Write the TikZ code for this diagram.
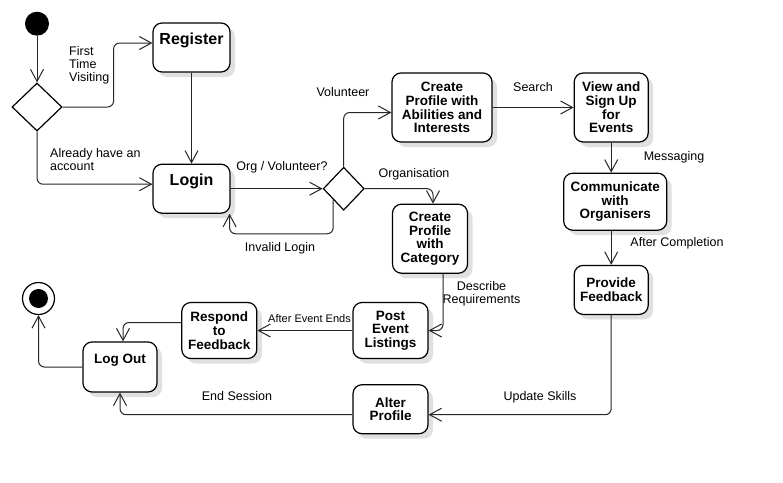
\documentclass[tikz,border=0pt]{standalone}
\usepackage{fontspec}
\setmainfont{Liberation Sans}
\usetikzlibrary{shapes.geometric, positioning, arrows.meta, shadows}

\begin{document}
\begin{tikzpicture}[x=1pt, y=1pt, font=\fontsize{12.5}{13}\selectfont]
        \tikzstyle{block} = [rectangle, rounded corners=9pt, draw, line width=1.2pt, fill=white, align=center, inner sep=3pt, font=\fontsize{13.5}{13.7}\selectfont\bfseries, drop shadow={shadow xshift=5pt, shadow yshift=-5pt, fill=black!12, opacity=1}]
        \tikzstyle{oneline} = [text height=18pt, text depth=25pt]
        \tikzstyle{big} = [font=\fontsize{16}{18}\selectfont\bfseries]
        \tikzstyle{decision} = [diamond, draw, line width=1.2pt, fill=white, inner sep=0pt, minimum width=50pt, minimum height=48pt]
        \tikzstyle{startdot} = [circle, fill=black, inner sep=0pt, minimum size=24pt]
        \tikzstyle{enddot} = [circle, draw, line width=1.2pt, fill=white, inner sep=0pt, minimum size=32pt, path picture={\fill [black] (path picture bounding box.center) circle (9.5pt);}]
        \tikzstyle{line} = [draw=black!85, line width=1pt, rounded corners=6pt, -{Straight Barb[length=12pt, width=13pt]}]
        \tikzstyle{guard} = [inner sep=1pt]
        \useasboundingbox (0,0) rectangle (783,-482);

        \node (reg) at (191.5,-47.5) [block, oneline, big, minimum width=77pt, minimum height=49pt] {Register};
        \node [below=91pt of reg] (login) [block, oneline, big, minimum width=77pt, minimum height=49pt] {Login};
        \node (d1) at (37,-107) [decision] {};
        \node [above=46.5pt of d1] (start) [startdot] {};
        \node [right=92pt of login] (d2) [decision, minimum width=41pt, minimum height=43pt] {};
        \node (abil) at (442,-107.5) [block, minimum width=100pt, minimum height=69pt] {Create\\Profile with\\Abilities and\\Interests};
        \node [right=81pt of abil] (view) [block, minimum width=74pt, minimum height=69pt] {View and\\Sign Up\\for\\Events};
        \node [below=30pt of view, xshift=4pt] (comm) [block, minimum width=103pt, minimum height=57pt] {Communicate\\with\\Organisers};
        \node [below=34pt of comm, xshift=-4pt] (feed) [block, minimum width=74pt, minimum height=49pt] {Provide\\Feedback};
        \node [below=61pt of abil, xshift=-12pt] (cat) [block, minimum width=75pt, minimum height=69pt] {Create\\Profile\\with\\Category};
        \node (post) at (390.5,-330.5) [block, minimum width=75pt, minimum height=56pt] {Post\\Event\\Listings};
        \node [below=25pt of post] (alter) [block, minimum width=75pt, minimum height=49pt] {Alter\\Profile};
        \node [left=95pt of post] (resp) [block, minimum width=75pt, minimum height=56pt] {Respond\\to\\Feedback};
        \node (logout) at (120,-367) [block, oneline, minimum width=74pt, minimum height=50pt] {Log Out};
        \node (end) at (38.5,-298.5) [enddot] {};

        \node (visit) at (68,-65.5) [guard, anchor=west, align=left] {First\\Time\\Visiting};
        \node (acc) at (49,-160) [guard, anchor=west, align=left] {Already have an\\account};
        \node (orvo) at (282,-167) [guard] {Org / Volunteer?};
        \node (inv) at (280,-248) [guard] {Invalid Login};
        \node (vol) at (343,-92.5) [guard] {Volunteer};
        \node (org) at (414,-174) [guard] {Organisation};
        \node (srch) at (533,-87.5) [guard] {Search};
        \node (msg) at (674,-157) [guard] {Messaging};
        \node (compl) at (677,-243.5) [guard] {After Completion};
        \node (req) at (481.5,-294) [guard, align=center] {Describe\\Requirements};
        \node (evend) at (309.5,-318.5) [guard, font=\fontsize{11}{12}\selectfont] {After Event Ends};
        \node (upd) at (540,-397.5) [guard] {Update Skills};
        \node (sess) at (237,-396.5) [guard] {End Session};

        \draw [line] (start) -- (d1);
        \draw [line] (d1.east) -- ++(51pt,0) |- ([yshift=4.5pt]reg.west);
        \draw [line] (d1.south) |- ([yshift=4.5pt]login.west);
        \draw [line] (reg) -- (login);
        \draw [line] (login) -- (d2);
        \draw [line] (d2.south west) -- ++(0,-34pt) -| ([xshift=-1pt]login.south east);
        \draw [line] (d2.north) |- ([yshift=-5pt]abil.west);
        \draw [line] (d2.east) -| ([xshift=3pt]cat.north);
        \draw [line] (abil) -- (view);
        \draw [line] (view) -- (view |- comm.north);
        \draw [line] (feed |- comm.south) -- (feed);
        \draw [line] (feed) |- ([yshift=-5.5pt]alter.east);
        \draw [line] ([xshift=13pt]cat.south) |- (post);
        \draw [line] (post) -- (resp);
        \draw [line] ([yshift=8pt]resp.west) -| ([xshift=3pt]logout.north);
        \draw [line] ([yshift=-5.5pt]alter.west) -| (logout);
        \draw [line] (logout) -| (end);
    \end{tikzpicture}
\end{document}
